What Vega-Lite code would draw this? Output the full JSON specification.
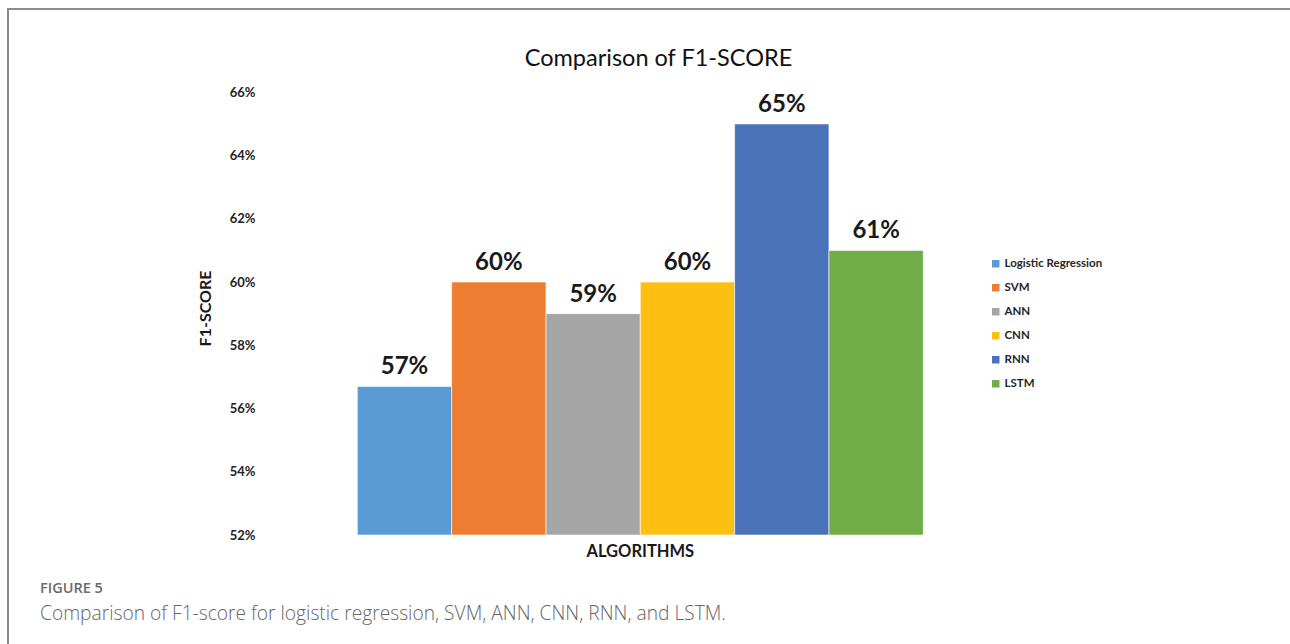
{
  "$schema": "https://vega.github.io/schema/vega-lite/v6.json",
  "width": 1290,
  "height": 640,
  "autosize": {"type": "none"},
  "padding": {"left": 8, "top": 9, "right": 0, "bottom": 0},
  "background": "white",
  "config": {
    "view": {"stroke": "#8c8c8c", "strokeWidth": 2},
    "font": "Lato"
  },
  "title": {
    "text": "FIGURE 5",
    "subtitle": "Comparison of F1-score for logistic regression, SVM, ANN, CNN, RNN, and LSTM.",
    "orient": "bottom",
    "anchor": "start",
    "frame": "group",
    "offset": -67,
    "dx": 32,
    "font": "Open Sans",
    "fontSize": 14.5,
    "fontWeight": 600,
    "color": "#6b6b6b",
    "subtitleFont": "Open Sans",
    "subtitleFontSize": 19.2,
    "subtitleFontWeight": 300,
    "subtitleColor": "#666666",
    "subtitlePadding": 8
  },
  "data": {
    "values": [
      {"group": "ALGORITHMS", "algorithm": "Logistic Regression", "f1": 0.567},
      {"group": "ALGORITHMS", "algorithm": "SVM", "f1": 0.60},
      {"group": "ALGORITHMS", "algorithm": "ANN", "f1": 0.59},
      {"group": "ALGORITHMS", "algorithm": "CNN", "f1": 0.60},
      {"group": "ALGORITHMS", "algorithm": "RNN", "f1": 0.65},
      {"group": "ALGORITHMS", "algorithm": "LSTM", "f1": 0.61}
    ]
  },
  "encoding": {
    "y": {
      "field": "f1",
      "type": "quantitative",
      "scale": {"domain": [0.48395, 0.68634], "nice": false, "zero": false},
      "axis": {
        "offset": -249,
        "values": [0.52, 0.54, 0.56, 0.58, 0.60, 0.62, 0.64, 0.66],
        "format": ".0%",
        "grid": false,
        "domain": false,
        "ticks": false,
        "labelPadding": 2,
        "labelFont": "Lato",
        "labelFontWeight": "bold",
        "labelFontSize": 13,
        "labelColor": "#222222",
        "title": "F1-SCORE",
        "titleFont": "Lato",
        "titleFontWeight": "bold",
        "titleFontSize": 16,
        "titleColor": "#1a1a1a",
        "titleAngle": -90,
        "titleX": -52,
        "titleY": 299,
        "titleAlign": "center",
        "titleBaseline": "middle"
      }
    }
  },
  "layer": [
    {
      "mark": {"type": "bar", "stroke": "white", "strokeWidth": 1, "strokeOpacity": 0.6},
      "encoding": {
        "x": {
          "field": "group",
          "type": "nominal",
          "scale": {"paddingInner": 0, "paddingOuter": 0.63958, "align": 0.48246},
          "axis": {
            "orient": "bottom",
            "offset": -114,
            "title": null,
            "domain": false,
            "ticks": false,
            "labelAngle": 0,
            "labelPadding": 8,
            "labelFont": "Lato",
            "labelFontWeight": "bold",
            "labelFontSize": 16.5,
            "labelColor": "#1a1a1a"
          }
        },
        "xOffset": {
          "field": "algorithm",
          "type": "nominal",
          "sort": ["Logistic Regression", "SVM", "ANN", "CNN", "RNN", "LSTM"],
          "scale": {"paddingInner": 0, "paddingOuter": 0}
        },
        "y2": {"datum": 0.52},
        "color": {
          "field": "algorithm",
          "type": "nominal",
          "scale": {
            "domain": ["Logistic Regression", "SVM", "ANN", "CNN", "RNN", "LSTM"],
            "range": ["#5b9bd5", "#ed7d31", "#a5a5a5", "#fdbf12", "#4a72b8", "#70ad47"]
          },
          "legend": {
            "orient": "none",
            "legendX": 982,
            "legendY": 249,
            "title": null,
            "padding": 0,
            "symbolType": "square",
            "symbolSize": 56,
            "symbolStrokeWidth": 0,
            "labelFont": "Lato",
            "labelFontWeight": "bold",
            "labelFontSize": 11.5,
            "labelColor": "#262626",
            "labelOffset": 3,
            "rowPadding": 11
          }
        }
      }
    },
    {
      "mark": {
        "type": "text",
        "baseline": "alphabetic",
        "align": "center",
        "dy": -12,
        "font": "Lato",
        "fontWeight": "bold",
        "fontSize": 24,
        "color": "#1a1a1a"
      },
      "encoding": {
        "x": {
          "field": "group",
          "type": "nominal",
          "axis": {
            "orient": "top",
            "labels": false,
            "ticks": false,
            "domain": false,
            "title": "Comparison of F1-SCORE",
            "titleX": 650,
            "titleY": 56,
            "titleAlign": "center",
            "titleBaseline": "alphabetic",
            "titleFont": "Lato",
            "titleFontWeight": "normal",
            "titleFontSize": 23.5,
            "titleColor": "#111111"
          }
        },
        "xOffset": {
          "field": "algorithm",
          "type": "nominal",
          "sort": ["Logistic Regression", "SVM", "ANN", "CNN", "RNN", "LSTM"]
        },
        "text": {"field": "f1", "type": "quantitative", "format": ".0%"}
      }
    }
  ],
  "resolve": {"axis": {"x": "independent"}}
}
